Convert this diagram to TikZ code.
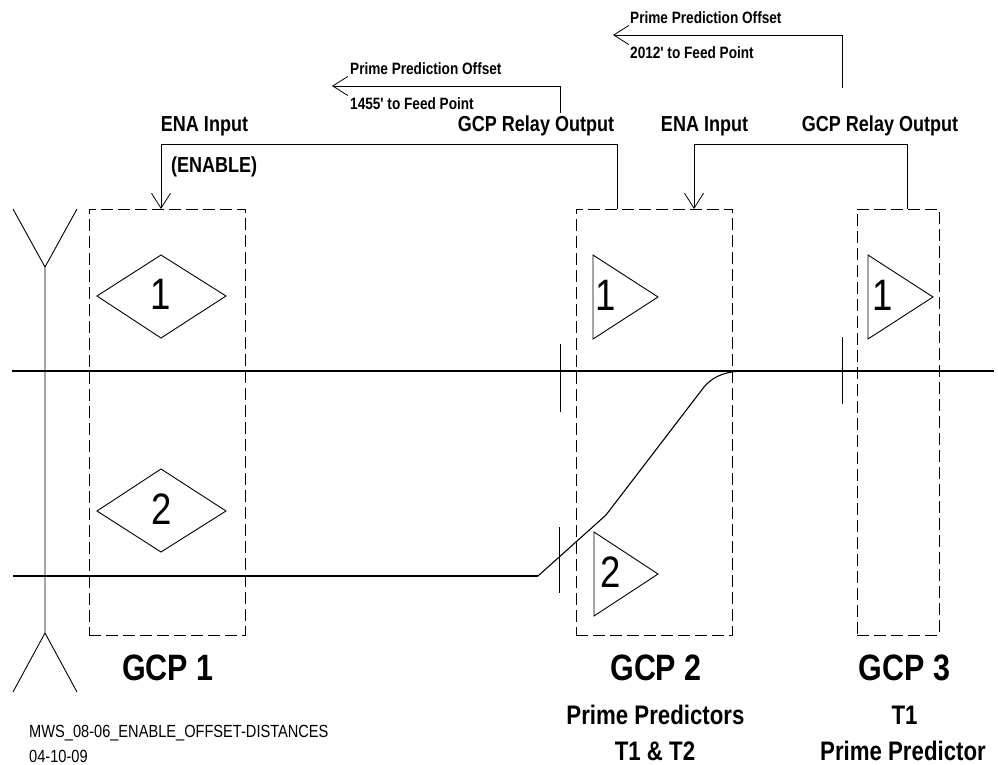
\documentclass[tikz,border=0pt]{standalone}
\usepackage{fontspec}
\setmainfont{Liberation Sans}[FakeStretch=0.83,Ligatures=TeXOff]
\usetikzlibrary{arrows.meta}
\tikzset{
 px/.style={x=1pt,y=-1pt},
 zone/.style={draw,dash pattern=on 12pt off 5pt,line width=0.8pt,inner sep=0pt,outer sep=0pt},
 thin line/.style={draw,line width=0.9pt},
 rail/.style={draw,line width=1.6pt},
 arr/.style={draw,line width=0.9pt,-{Straight Barb[length=15pt,width=19pt,line width=0.8pt]}},
 lab/.style={font=\bfseries\fontsize{21.7}{24}\selectfont,inner sep=0pt},
 slab/.style={font=\bfseries\fontsize{16.4}{18}\selectfont,inner sep=0pt,anchor=west},
 big/.style={font=\bfseries\fontsize{36.7}{40}\selectfont,inner sep=0pt},
 mid/.style={font=\bfseries\fontsize{26.8}{30}\selectfont,inner sep=0pt},
 num/.style={font=\fontsize{44}{46}\selectfont,inner sep=0pt},
 small/.style={font=\fontsize{17.6}{20}\selectfont,inner sep=0pt,anchor=west}
}
\begin{document}
\begin{tikzpicture}[px]
\useasboundingbox (0,0) rectangle (998,765);
% zones
\node[zone,minimum width=156pt,minimum height=426pt] (z1) at (167,422) {};
\node[zone,minimum width=156pt,minimum height=426pt] (z2) at (654,422) {};
\node[zone,minimum width=82pt,minimum height=426pt] (z3) at (898,422) {};
% crossing sign
\coordinate (yl) at (13,209); \coordinate (yr) at (77,209); \coordinate (yc) at (45,267);
\coordinate (yb) at (45,633); \coordinate (bl) at (13,692); \coordinate (br) at (77,692);
\draw[thin line] (yl) -- (yc) -- (yr) (yc) -- (yb) (bl) -- (yb) -- (br);
% rails
\coordinate (r1a) at (12,371); \coordinate (r1b) at (994,371);
\draw[rail] (r1a) -- (r1b);
\coordinate (r2a) at (13,576); \coordinate (r2b) at (538,576);
\draw[rail] (r2a) -- (r2b);
\draw[draw,line width=1.1pt] (r2b) -- (606,515) -- (704,387) .. controls (714,375) and (728,371) .. (745,371) -- (783,371);
% insulated joints
\draw[thin line] (560,344) -- (560,412);
\draw[thin line] (559,527) -- (559,593);
\draw[thin line] (842,337) -- (842,404);
% diamonds
\draw[thin line] (97,296) -- (161,255) -- (226,296) -- (161,338) -- cycle;
\draw[thin line] (97,511) -- (161,469) -- (226,511) -- (161,552) -- cycle;
\node[num] (d1) at (161,294) {1};
\node[num] (d2) at (162,509) {2};
% triangles
\draw[thin line] (593,255) -- (658,297) -- (593,339) -- cycle;
\draw[thin line] (594,532) -- (658,574) -- (594,616) -- cycle;
\draw[thin line] (868,255) -- (933,297) -- (868,339) -- cycle;
\node[num] (t1) at (606,295) {1};
\node[num] (t2) at (611,572) {2};
\node[num] (t3) at (883,295) {1};
% connections
\coordinate (c1) at (617,209);
\coordinate (c2) at (907,209);
\draw[arr] (c1) -- (617,144.5) -- (161,144.5) -- (161,209);
\draw[arr] (c2) -- (907,144.5) -- (694,144.5) -- (694,209);
\coordinate (p1) at (560,113);
\coordinate (p2) at (842,88);
\draw[arr] (p1) -- (560,86) -- (332,86);
\draw[arr] (p2) -- (842,35) -- (613,35);
% labels
\node[lab] (a) at (204.5,126) {ENA Input};
\node[lab,anchor=west] (b) at (171,167) {(ENABLE)};
\node[lab] (c) at (536,126) {GCP Relay Output};
\node[lab] (d) at (704.5,126) {ENA Input};
\node[lab] (e) at (880,126) {GCP Relay Output};
\node[slab] (f) at (350,69) {Prime Prediction Offset};
\node[slab] (g) at (350,104) {1455' to Feed Point};
\node[slab] (h) at (630,18) {Prime Prediction Offset};
\node[slab] (i) at (630,53) {2012' to Feed Point};
\node[big] (j) at (168,668) {GCP 1};
\node[big] (k) at (656,668) {GCP 2};
\node[big] (l) at (904.5,668) {GCP 3};
\node[mid] (m) at (655.5,715) {Prime Predictors};
\node[mid] (n) at (655,751) {T1 \& T2};
\node[mid] (o) at (904.5,715) {T1};
\node[mid] (q) at (903,751) {Prime Predictor};
\node[small] (r) at (29,733) {MWS\_08-06\_ENABLE\_OFFSET-DISTANCES};
\node[small] (s) at (29,756) {04-10-09};
\end{tikzpicture}
\end{document}
